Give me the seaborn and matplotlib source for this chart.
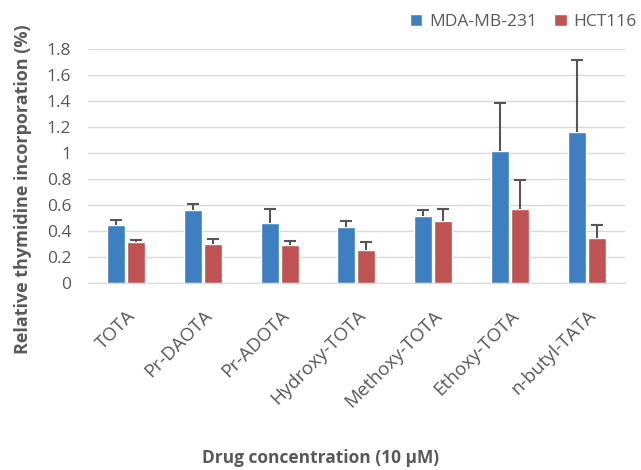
import numpy as np
import seaborn as sns
import pandas as pd
import matplotlib.pyplot as plt

drugs = ['TOTA', 'Pr-DAOTA', 'Pr-ADOTA', 'Hydroxy-TOTA', 'Methoxy-TOTA', 'Ethoxy-TOTA', 'n-butyl-TATA']
mda = [0.443, 0.561, 0.461, 0.429, 0.512, 1.013, 1.162]
mda_err = [0.044, 0.049, 0.111, 0.049, 0.049, 0.373, 0.553]
hct = [0.315, 0.302, 0.295, 0.252, 0.476, 0.568, 0.345]
hct_err = [0.018, 0.039, 0.028, 0.064, 0.090, 0.221, 0.102]
lines = ['MDA-MB-231', 'HCT116']

data = pd.DataFrame({
    'Drug': drugs * 2,
    'Value': mda + hct,
    'Err': mda_err + hct_err,
    'Line': [lines[0]] * len(drugs) + [lines[1]] * len(drugs),
})

sns.set_style('white')
plt.rcParams['font.family'] = ['Open Sans', 'DejaVu Sans']
gray = '#595959'

fig = plt.figure(figsize=(6.41, 4.70), dpi=100)
ax = fig.add_axes([0.137, 0.398, 0.838, 0.498])

colors = ['#3d7fc1', '#bf5252']
sns.barplot(data=data, x='Drug', y='Value', hue='Line', palette=colors,
            width=0.52, gap=0.1, errorbar=None, saturation=1, ax=ax)

# upward-only error bars on the bar centres
for cont, errs in zip(ax.containers, [mda_err, hct_err]):
    xs = [p.get_x() + p.get_width() / 2 for p in cont.patches]
    ys = [p.get_height() for p in cont.patches]
    eb = ax.errorbar(xs, ys, yerr=[np.zeros(len(errs)), errs], fmt='none',
                     ecolor='#555555', elinewidth=1.5, capsize=4, capthick=1.5)
    eb[1][0].set_visible(False)

ax.set_ylim(0, 1.8)
ax.set_yticks(np.arange(0, 1.81, 0.2))
ax.set_yticklabels(['0', '0.2', '0.4', '0.6', '0.8', '1', '1.2', '1.4', '1.6', '1.8'])
ax.set_xlim(-0.5, len(drugs) - 0.5)
ax.yaxis.grid(True, color='#d9d9d9', linewidth=1)
ax.set_axisbelow(True)
for s in ['top', 'right', 'left']:
    ax.spines[s].set_visible(False)
ax.spines['bottom'].set_color('#d9d9d9')
ax.tick_params(axis='y', labelsize=12.5, colors=gray, length=0, pad=12)
ax.tick_params(axis='x', labelsize=13.5, colors=gray, length=0, pad=17)
plt.setp(ax.get_xticklabels(), rotation=45, ha='right', rotation_mode='anchor')

ax.set_ylabel('Relative thymidine incorporation (%)', fontsize=13, fontweight='bold', color=gray)
ax.yaxis.set_label_coords(-0.104, 0.40)
ax.set_xlabel('')
fig.text(0.5, 0.006, 'Drug concentration (10 µM)', ha='center', va='bottom',
         fontsize=12.5, fontweight='bold', color=gray)

leg = ax.legend(loc='lower right', bbox_to_anchor=(1.035, 1.05), ncol=2, frameon=False,
                fontsize=12.5, handlelength=0.7, handleheight=0.7, handletextpad=0.4,
                columnspacing=1.0, borderaxespad=0)
for t in leg.get_texts():
    t.set_color(gray)

fig.savefig('out.png', dpi=100)
